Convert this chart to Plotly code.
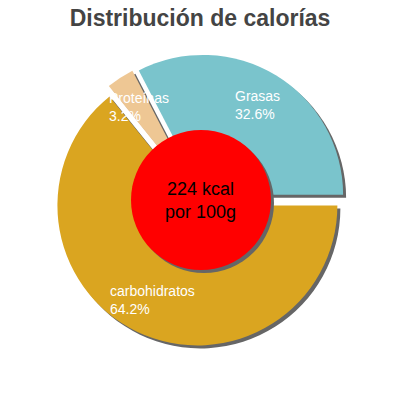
import math
import plotly.graph_objects as go

# calorie split per 100g
labels = ['carbohidratos', 'Proteínas', 'Grasas']
values = [64.2, 3.2, 32.6]
colors = ['#daa520', '#eec794', '#7ac4cc']
kcal_text = ['224 kcal', 'por 100g']
title_text = 'Distribución de calorías'

W = H = 400
PULL = 0.043
HALF = 0.365            # half size of the pie domain (paper)
SHADOW = 3 / W          # shadow offset
cx, cy = 0.5, 0.5

fig = go.Figure()

# shadow pie, drawn first so it stays behind
fig.add_trace(go.Pie(
    labels=labels, values=values, sort=False,
    direction='clockwise', rotation=90,
    pull=[PULL] * len(values),
    marker=dict(colors=['#666666'] * len(values), line=dict(width=0)),
    textinfo='none', hoverinfo='skip', showlegend=False,
    domain=dict(x=[cx - HALF + SHADOW, cx + HALF + SHADOW],
                y=[cy - HALF - SHADOW, cy + HALF - SHADOW]),
))

fig.add_trace(go.Pie(
    labels=labels, values=values, sort=False,
    direction='clockwise', rotation=90,
    pull=[PULL] * len(values),
    marker=dict(colors=colors, line=dict(width=0)),
    textinfo='none', hoverinfo='label+percent', showlegend=False,
    domain=dict(x=[cx - HALF, cx + HALF], y=[cy - HALF, cy + HALF]),
))

# labels inside slices, placed along each slice's bisector
R = HALF / (1 + PULL)
total = sum(values)
cum = 0
annotations = []
for lab, v in zip(labels, values):
    mid = -(cum + v / 2) / total * 360
    cum += v
    d = R * 0.75 + R * PULL
    x = cx + d * math.cos(math.radians(mid))
    y = cy + d * math.sin(math.radians(mid))
    annotations.append(dict(
        x=x, y=y, xref='paper', yref='paper',
        xanchor='center', yanchor='middle',
        text=f'{lab}<br>{v / total * 100:.1f}%',
        showarrow=False, align='left',
        font=dict(family='Liberation Sans, Arial', size=14, color='white'),
    ))

kx = cx + 1 / W
annotations.append(dict(
    x=kx, y=cy, xref='paper', yref='paper',
    xanchor='center', yanchor='middle',
    text='<br>'.join(kcal_text), showarrow=False,
    font=dict(family='Liberation Sans, Arial', size=18, color='black'),
))

rc = 70 / W
fig.update_layout(
    width=W, height=H,
    margin=dict(l=0, r=0, t=0, b=0),
    paper_bgcolor='white', plot_bgcolor='white',
    title=dict(text=f'<b>{title_text}</b>', x=0.5, xanchor='center',
               y=1 - 18 / H, yanchor='middle',
               font=dict(family='Liberation Sans, Arial', size=23, color='#444444')),
    shapes=[
        dict(type='circle', xref='paper', yref='paper', layer='above',
             x0=kx - rc + SHADOW, x1=kx + rc + SHADOW,
             y0=cy - rc - SHADOW, y1=cy + rc - SHADOW,
             fillcolor='#666666', line=dict(width=0)),
        dict(type='circle', xref='paper', yref='paper', layer='above',
             x0=kx - rc, x1=kx + rc, y0=cy - rc, y1=cy + rc,
             fillcolor='#ff0000', line=dict(width=0)),
    ],
    annotations=annotations,
)

# drop the default page margin so the 400x400 figure fills the window
fig.write_html('out.html', config={'displayModeBar': False},
               post_script="document.body.style.margin = '0';")
